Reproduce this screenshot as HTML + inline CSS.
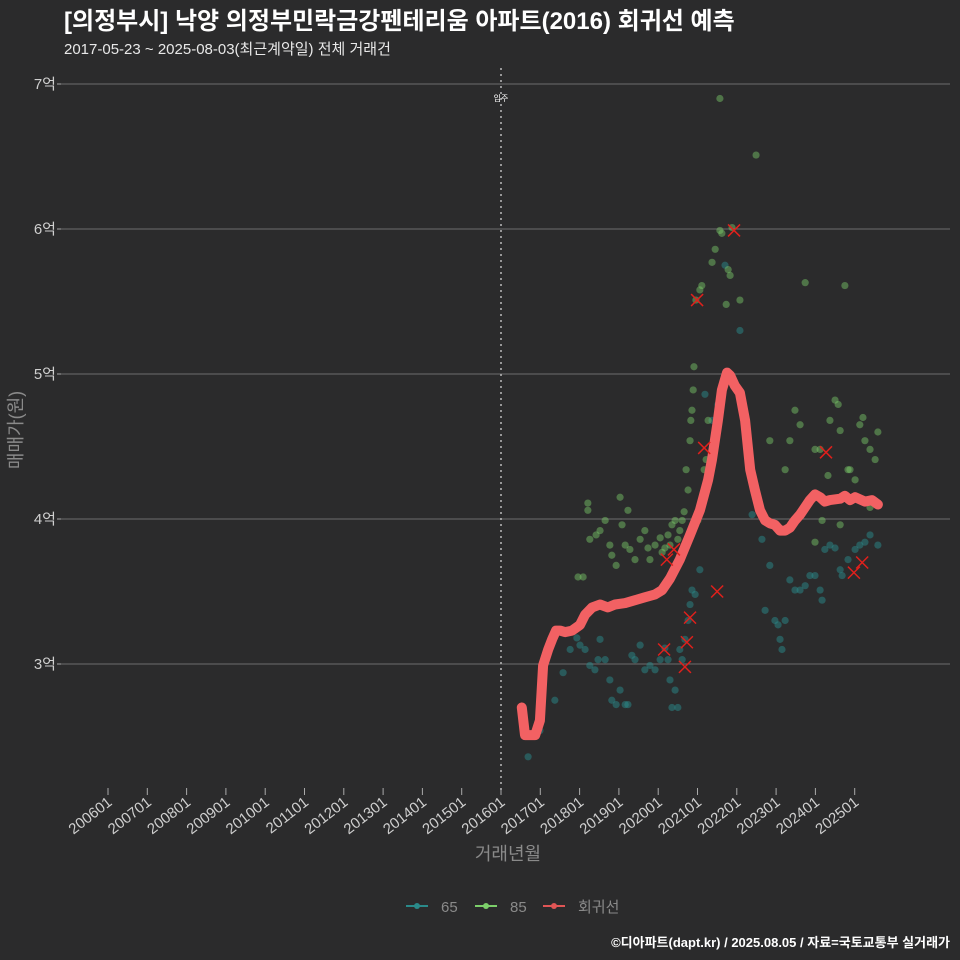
<!DOCTYPE html>
<html><head><meta charset="utf-8">
<style>
html,body{margin:0;padding:0;background:#2b2b2c;}
svg{display:block;font-family:"Liberation Sans","Noto Sans CJK KR",sans-serif;}
</style></head>
<body>
<svg id="chart" width="960" height="960" viewBox="0 0 960 960">
<rect width="960" height="960" fill="#2b2b2c"/>
<text x="64" y="29" fill="#ffffff" font-size="24" font-weight="bold">[의정부시] 낙양 의정부민락금강펜테리움 아파트(2016) 회귀선 예측</text>
<text x="64" y="54" fill="#e8e8e8" font-size="15">2017-05-23 ~ 2025-08-03(최근계약일) 전체 거래건</text>
<g id="grid"></g>
<g id="yaxis"></g>
<g id="xaxis"></g>
<line x1="501" y1="68" x2="501" y2="792" stroke="#bbbbbb" stroke-width="1.5" stroke-dasharray="2,4"/>
<text x="501" y="101" fill="#ffffff" font-size="8" text-anchor="middle">입주</text>
<g id="pts65"></g>
<g id="pts85"></g>
<g id="reg"></g>
<g id="marks"></g>
<text transform="translate(22,430) rotate(-90)" fill="#8a8a8a" font-size="18" text-anchor="middle">매매가(원)</text>
<text x="508" y="860" fill="#8a8a8a" font-size="18" text-anchor="middle">거래년월</text>
<g>
 <g>
  <line x1="406" y1="906" x2="428" y2="906" stroke="#2a8a8a" stroke-width="2"/><circle cx="417" cy="906" r="3" fill="#2a8a8a"/>
  <text x="441" y="912" fill="#8a8a8a" font-size="15">65</text></g>
 <g>
  <line x1="475" y1="906" x2="497" y2="906" stroke="#7ccf6a" stroke-width="2"/><circle cx="486" cy="906" r="3" fill="#7ccf6a"/>
  <text x="510" y="912" fill="#8a8a8a" font-size="15">85</text></g>
 <g>
  <line x1="543" y1="906" x2="565" y2="906" stroke="#e05555" stroke-width="2"/><circle cx="554" cy="906" r="3" fill="#e05555"/>
  <text x="578" y="912" fill="#8a8a8a" font-size="15">회귀선</text></g>
</g>
<text x="950" y="947" fill="#ffffff" font-size="13" font-weight="bold" text-anchor="end">©디아파트(dapt.kr) / 2025.08.05 / 자료=국토교통부 실거래가</text>
</svg>
<script>
const yTicks=[3,4,5,6,7];
const yTickLabels=["3억","4억","5억","6억","7억"];
const xTickYears=[2006,2007,2008,2009,2010,2011,2012,2013,2014,2015,2016,2017,2018,2019,2020,2021,2022,2023,2024,2025];
const xTickLabels=["200601","200701","200801","200901","201001","201101","201201","201301","201401","201501","201601","201701","201801","201901","202001","202101","202201","202301","202401","202501"];
const regT=[2016.53,2016.61,2016.87,2016.99,2017.07,2017.20,2017.30,2017.40,2017.50,2017.63,2017.81,2018.01,2018.14,2018.32,2018.52,2018.72,2018.90,2019.16,2019.41,2019.66,2019.92,2020.10,2020.30,2020.55,2020.81,2021.06,2021.27,2021.37,2021.52,2021.62,2021.75,2021.83,2021.95,2022.08,2022.21,2022.34,2022.46,2022.59,2022.72,2022.84,2022.97,2023.10,2023.23,2023.35,2023.48,2023.61,2023.86,2023.99,2024.12,2024.24,2024.37,2024.63,2024.75,2024.88,2025.01,2025.26,2025.44,2025.59];
const regP=[2.70,2.51,2.51,2.61,2.99,3.10,3.17,3.23,3.23,3.22,3.23,3.27,3.34,3.39,3.41,3.39,3.41,3.42,3.44,3.46,3.48,3.51,3.59,3.72,3.89,4.06,4.27,4.41,4.68,4.89,5.01,4.99,4.92,4.87,4.68,4.34,4.20,4.06,3.99,3.97,3.96,3.92,3.92,3.94,3.99,4.03,4.13,4.17,4.15,4.12,4.13,4.14,4.16,4.13,4.15,4.12,4.13,4.10];
const t85=[17.96,18.09,18.21,18.21,18.26,18.42,18.52,18.65,18.77,18.82,18.93,19.03,19.08,19.16,19.23,19.28,19.41,19.54,19.66,19.74,19.79,19.92,20.05,20.10,20.17,20.25,20.30,20.35,20.43,20.50,20.55,20.61,20.66,20.71,20.76,20.81,20.83,20.86,20.89,20.91,20.96,21.01,21.06,21.11,21.17,21.22,21.27,21.37,21.45,21.57,21.62,21.73,21.78,21.83,21.88,21.57,22.49,22.08,22.84,23.23,23.35,23.48,23.61,23.74,23.99,24.12,24.17,24.32,24.37,24.50,24.58,24.63,24.75,24.83,24.88,25.01,25.13,25.21,25.26,25.39,25.52,25.59,25.39,24.63,23.99];
const p85=[3.60,3.60,4.11,4.06,3.86,3.89,3.92,3.99,3.82,3.75,3.68,4.15,3.96,3.82,4.06,3.79,3.72,3.86,3.92,3.80,3.72,3.82,3.87,3.77,3.80,3.89,3.82,3.96,3.99,3.86,3.92,3.99,4.05,4.34,4.20,4.54,4.68,4.75,4.89,5.05,5.51,3.99,5.58,5.61,4.34,4.41,4.68,5.77,5.86,5.99,5.97,5.48,5.72,5.68,6.01,6.90,6.51,5.51,4.54,4.34,4.54,4.75,4.65,5.63,4.48,4.48,3.99,4.30,4.68,4.82,4.79,4.61,5.61,4.34,4.34,4.27,4.65,4.70,4.54,4.48,4.41,4.60,4.08,3.96,3.84];
const t65=[16.69,16.99,17.37,17.58,17.76,17.93,18.01,18.14,18.26,18.39,18.47,18.52,18.65,18.77,18.82,18.93,19.03,19.16,19.23,19.33,19.41,19.54,19.66,19.79,19.92,20.05,20.17,20.25,20.30,20.35,20.43,20.50,20.55,20.61,20.68,20.76,20.81,20.86,20.94,21.06,21.19,21.37,21.52,21.70,22.08,22.39,22.64,22.72,22.84,22.97,23.05,23.10,23.15,23.23,23.35,23.48,23.61,23.74,23.86,23.99,24.12,24.17,24.24,24.37,24.50,24.63,24.68,24.83,25.01,25.13,25.26,25.39,25.59];
const p65=[2.36,2.54,2.75,2.94,3.10,3.18,3.13,3.10,2.99,2.96,3.03,3.17,3.03,2.89,2.75,2.72,2.82,2.72,2.72,3.06,3.03,3.13,2.96,2.99,2.96,3.03,3.11,3.03,2.89,2.70,2.82,2.70,3.10,3.03,3.17,3.30,3.41,3.51,3.48,3.65,4.86,4.68,4.79,5.75,5.30,4.03,3.86,3.37,3.68,3.30,3.27,3.17,3.10,3.30,3.58,3.51,3.51,3.54,3.61,3.61,3.51,3.44,3.79,3.82,3.80,3.65,3.61,3.72,3.79,3.82,3.84,3.89,3.82];
const tX=[20.99,21.93,21.17,21.50,20.22,20.40,20.81,20.73,20.68,20.15,24.27,24.98,25.19];
const pX=[5.51,5.99,4.49,3.50,3.72,3.79,3.32,3.15,2.98,3.10,4.46,3.63,3.70];

const NS="http://www.w3.org/2000/svg";
function xs(t){return 501+(t-2016)*39.3;}
function xs2(t){return xs(2000+t);}
function ys(p){return 664-(p-3)*145;}
function mk(tag,attrs,parent){const e=document.createElementNS(NS,tag);for(const k in attrs)e.setAttribute(k,attrs[k]);document.getElementById(parent).appendChild(e);return e;}

yTicks.forEach((v,i)=>{
 const g=mk('line',{x1:60,x2:950,y1:ys(v),y2:ys(v),stroke:'#6e6e6e','stroke-width':1},'grid');
 
 
 const tk=mk('line',{x1:57,x2:61,y1:ys(v),y2:ys(v),stroke:'#aaa'},'yaxis');
 
 
 const t=mk('text',{x:56,y:ys(v)+5,fill:'#cfcfcf','font-size':15,'text-anchor':'end'},'yaxis');
 t.textContent=yTickLabels[i];
 
 
});
xTickYears.forEach((v,i)=>{
 const x=xs(v);
 const tk=mk('line',{x1:x,x2:x,y1:788,y2:795,stroke:'#aaa'},'xaxis');
 
 
 const t=mk('text',{x:0,y:0,fill:'#cfcfcf','font-size':15,'text-anchor':'end',transform:`translate(${x+5},${804}) rotate(-38)`},'xaxis');
 t.textContent=xTickLabels[i];
 
 
});
t65.forEach((t,i)=>{
 const c=mk('circle',{cx:xs2(t),cy:ys(p65[i]),r:3.6,fill:'#2a8a8a','fill-opacity':0.5},'pts65');
 
 
});
t85.forEach((t,i)=>{
 const c=mk('circle',{cx:xs2(t),cy:ys(p85[i]),r:3.6,fill:'#7ccf6a','fill-opacity':0.45},'pts85');
 
 
});
const d=regT.map((t,i)=>(i?'L':'M')+xs(t).toFixed(1)+','+ys(regP[i]).toFixed(1)).join(' ');
const rl=mk('path',{d:d,fill:'none',stroke:'#f26163','stroke-width':10,'stroke-linejoin':'round','stroke-linecap':'round'},'reg');


tX.forEach((t,i)=>{
 const x=xs2(t),y=ys(pX[i]);
 const p=mk('path',{d:`M${x-6},${y-6}L${x+6},${y+6}M${x-6},${y+6}L${x+6},${y-6}`,stroke:'#e0201c','stroke-width':1.5,fill:'none'},'marks');
 
 
});
</script>
</body></html>
